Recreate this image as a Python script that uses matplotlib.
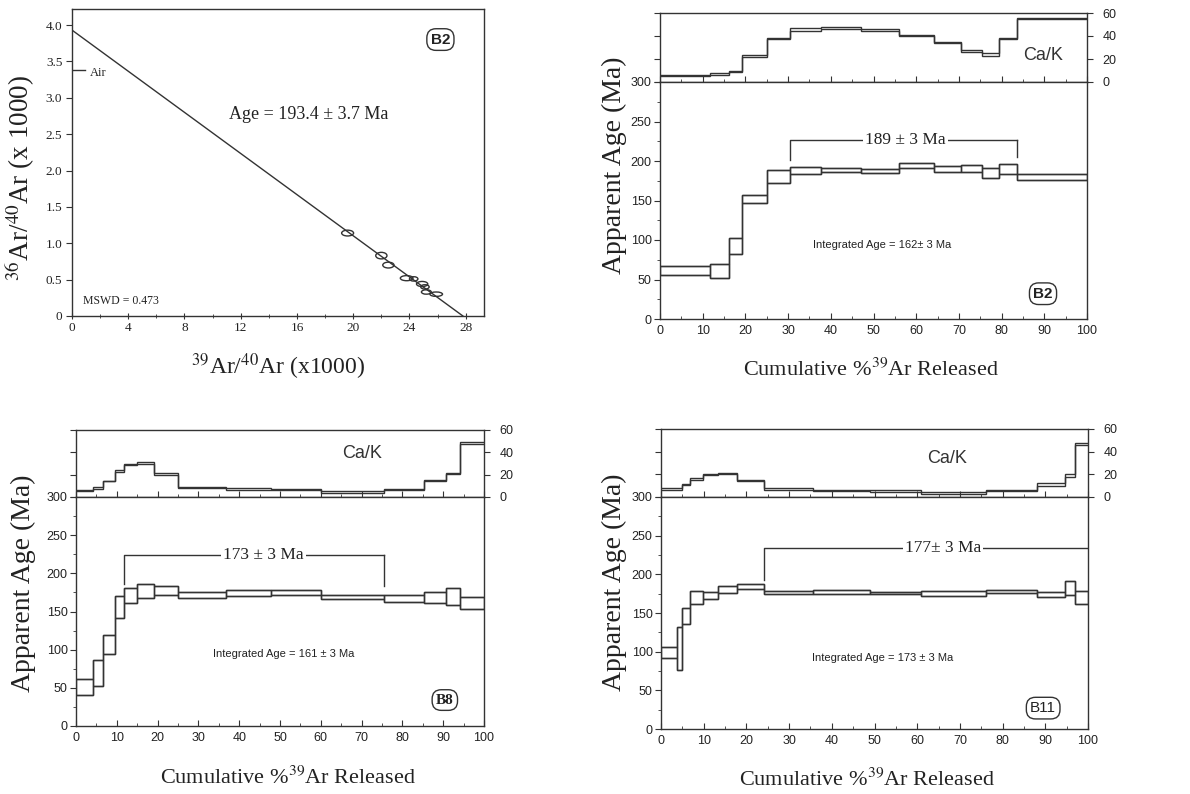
import matplotlib
matplotlib.use("Agg")
import matplotlib.pyplot as plt
from matplotlib.patches import Ellipse
from matplotlib.ticker import MultipleLocator

plt.rcParams["mathtext.fontset"] = "stix"

SERIF = "Liberation Serif"
SANS = "Liberation Sans"
INK = "#333333"

# ---- isochron (sample B2) ----
iso_x = [19.6, 22.0, 22.5, 23.8, 24.3, 24.9, 25.1, 25.2, 25.9]
iso_y = [1.14, 0.83, 0.70, 0.52, 0.51, 0.44, 0.40, 0.33, 0.30]
iso_w = [0.85, 0.80, 0.80, 0.90, 0.60, 0.80, 0.60, 0.70, 0.90]
iso_h = [0.08, 0.09, 0.08, 0.07, 0.06, 0.07, 0.06, 0.06, 0.06]
iso_y0 = 3.93   # 36Ar/40Ar intercept
iso_x0 = 27.8   # 39Ar/40Ar intercept
air_ratio = 3.38
iso_age = "Age = 193.4 ± 3.7 Ma"
iso_mswd = "MSWD = 0.473"

# ---- step-heating spectra ----
b2_edges = [0, 11.7, 16.2, 19.1, 25.0, 30.4, 37.6, 47.0, 55.9, 64.2, 70.6, 75.5, 79.4, 83.5, 100]
b2_age_lo = [56, 52, 82, 147, 172, 184, 186, 185, 191, 186, 186, 179, 184, 176]
b2_age_hi = [67, 69, 103, 157, 188, 192, 191, 190, 198, 194, 195, 191, 196, 184]
b2_cak_lo = [5, 6.5, 8.5, 22, 37.5, 44.5, 46.5, 44.5, 40, 33.5, 26.5, 23, 37.5, 55]
b2_cak_hi = [6, 7.5, 9.5, 23.5, 38.5, 47, 47.5, 46.5, 41, 34.5, 27.5, 25.5, 38.5, 56]

b8_edges = [0, 4.2, 6.7, 9.6, 11.8, 14.9, 19.1, 24.9, 36.8, 47.8, 60.0, 75.5, 85.3, 90.6, 94.0, 100]
b8_age_lo = [41, 52, 94, 142, 161, 168, 172, 168, 170, 171, 166, 163, 161, 158, 153]
b8_age_hi = [62, 87, 119, 170, 181, 186, 184, 176, 178, 178, 172, 172, 176, 181, 169]
b8_cak_lo = [5.5, 7.5, 14, 22.5, 28.5, 29.5, 20, 8.5, 6.5, 6.5, 3.5, 6, 14, 20.5, 47.5]
b8_cak_hi = [6.5, 9, 14.5, 24, 30, 31, 21.5, 9, 8.5, 7.5, 5, 6.8, 14.8, 21.5, 49]

b11_edges = [0, 3.8, 4.9, 6.8, 9.9, 13.3, 17.9, 24.2, 35.6, 48.9, 61.0, 76.2, 88.0, 94.5, 96.9, 100]
b11_age_lo = [92, 76, 136, 162, 168, 176, 181, 174, 175, 175, 172, 176, 171, 173, 161]
b11_age_hi = [106, 132, 157, 178, 177, 185, 188, 179, 180, 177, 178, 180, 177, 191, 178]
b11_cak_lo = [6.5, 6.5, 10.4, 15.4, 19, 20.2, 14.3, 6.5, 5, 4.5, 2.4, 5, 10, 17.8, 46]
b11_cak_hi = [8, 8, 11.9, 16.9, 20.2, 21.4, 15.4, 8, 6.5, 6, 4.5, 6.5, 12.5, 20.2, 48]

# plateau: start, end, bracket level, left drop, right drop, label, label x
b2_plateau = (30.4, 83.5, 226, 201, 205, "189 ± 3 Ma", 57.5)
b8_plateau = (11.8, 75.5, 224, 186, 184, "173 ± 3 Ma", 46)
b11_plateau = (24.2, 100, 234, 193, None, "177± 3 Ma", 66)

b2_integrated = ("Integrated Age = 162± 3 Ma", 52, 93.5)
b8_integrated = ("Integrated Age = 161 ± 3 Ma", 50.8, 94)
b11_integrated = ("Integrated Age = 173 ± 3 Ma", 52, 91.5)

W, H = 1190, 794
fig = plt.figure(figsize=(W / 100, H / 100), dpi=100)


def px_axes(left, top, right, bottom):
    return fig.add_axes([left / W, 1 - bottom / H, (right - left) / W, (bottom - top) / H])


def style_spines(ax):
    for s in ax.spines.values():
        s.set_color(INK)
        s.set_linewidth(1.0)


def sample_tag(ax, x, y, name, family, weight):
    ax.text(x, y, name, ha="center", va="center", fontsize=11, family=family,
            weight=weight, color="#222222",
            bbox=dict(boxstyle="round,pad=0.25,rounding_size=0.6", fc="white", ec=INK, lw=1.0))


# isochron plot
ax = px_axes(72, 9, 484, 316)
style_spines(ax)
ax.set_xlim(0, 29.3)
ax.set_ylim(0, 4.22)
ax.plot([0, iso_x0], [iso_y0, 0], color=INK, lw=1.0)
for x, y, w, h in zip(iso_x, iso_y, iso_w, iso_h):
    ax.add_patch(Ellipse((x, y), w, h, fill=False, ec=INK, lw=1.0))
ax.plot([0, 0.9], [air_ratio, air_ratio], color=INK, lw=1.0)
ax.text(1.3, air_ratio - 0.04, "Air", family=SERIF, fontsize=9, va="center", color="#222222")
ax.text(16.8, 2.77, iso_age, family=SERIF, fontsize=13, ha="center", va="center", color="#222222")
ax.text(0.8, 0.2, iso_mswd, family=SERIF, fontsize=8.5, va="center", color="#222222")
sample_tag(ax, 26.2, 3.8, "B2", SANS, "bold")
ax.set_xticks(range(0, 29, 4))
ax.set_xticklabels([str(v) for v in range(0, 29, 4)], family=SERIF, fontsize=9.5)
ax.xaxis.set_minor_locator(MultipleLocator(2))
ax.set_yticks([0, 0.5, 1, 1.5, 2, 2.5, 3, 3.5, 4])
ax.set_yticklabels(["0", "0.5", "1.0", "1.5", "2.0", "2.5", "3.0", "3.5", "4.0"], family=SERIF, fontsize=9.5)
ax.tick_params(axis="x", which="both", direction="inout", length=4, color=INK, labelcolor="#222222", pad=2)
ax.tick_params(axis="x", which="minor", length=2.5)
ax.tick_params(axis="y", direction="out", length=4, color=INK, labelcolor="#222222", pad=3)
fig.text(20 / W, 1 - 178 / H, r"$^{36}$Ar/$^{40}$Ar (x 1000)", rotation=90, ha="center", va="center",
         family=SERIF, fontsize=19.5, color="#222222")
fig.text(278 / W, 1 - 367 / H, r"$^{39}$Ar/$^{40}$Ar (x1000)", ha="center", va="center",
         family=SERIF, fontsize=17, color="#222222")


def spectrum(box, edges, age_lo, age_hi, cak_lo, cak_hi, plateau, integrated,
             tag, tag_xy, tag_family, tag_weight, cak_xy, ylabel_xy, xlabel_xy):
    left, top, mid, right, bottom = box
    ca = px_axes(left, top, right, mid)
    ag = px_axes(left, mid, right, bottom)
    style_spines(ca)
    style_spines(ag)

    # Ca/K ratio: two staircase lines (lower and upper bound)
    ca.stairs(cak_lo, edges, color=INK, lw=1.0, baseline=None)
    ca.stairs(cak_hi, edges, color=INK, lw=1.0, baseline=None)
    ca.set_xlim(0, 100)
    ca.set_ylim(0, 60)
    ca.set_yticks([0, 20, 40, 60])
    ca.set_yticklabels(["0", "20", "40", "60"], family=SANS, fontsize=9)
    ca.tick_params(axis="y", left=True, right=True, labelleft=False, labelright=True,
                   direction="out", length=4, color=INK, labelcolor="#222222", pad=7)
    ca.set_xticks(range(0, 101, 10))
    ca.xaxis.set_minor_locator(MultipleLocator(5))
    ca.tick_params(axis="x", which="both", direction="in", length=4, labelbottom=False, color=INK)
    ca.tick_params(axis="x", which="minor", length=2.5)
    ca.text(cak_xy[0], cak_xy[1], "Ca/K", family=SANS, fontsize=13, ha="center", va="center", color="#333333")

    # apparent age: one box per step, plus lower/upper staircases joining the steps
    widths = [b - a for a, b in zip(edges[:-1], edges[1:])]
    heights = [h - l for l, h in zip(age_lo, age_hi)]
    ag.bar(edges[:-1], heights, width=widths, bottom=age_lo, align="edge",
           fill=False, edgecolor=INK, linewidth=1.0)
    ag.stairs(age_lo, edges, color=INK, lw=1.0, baseline=None)
    ag.stairs(age_hi, edges, color=INK, lw=1.0, baseline=None)
    ag.set_xlim(0, 100)
    ag.set_ylim(0, 300)
    ag.set_xticks(range(0, 101, 10))
    ag.set_xticklabels([str(v) for v in range(0, 101, 10)], family=SANS, fontsize=9)
    ag.xaxis.set_minor_locator(MultipleLocator(5))
    ag.set_yticks(range(0, 301, 50))
    ag.set_yticklabels([str(v) for v in range(0, 301, 50)], family=SANS, fontsize=9)
    ag.yaxis.set_minor_locator(MultipleLocator(25))
    ag.tick_params(axis="x", which="both", direction="in", length=4, color=INK, labelcolor="#222222", pad=4)
    ag.tick_params(axis="x", which="minor", length=2.5)
    ag.tick_params(axis="y", which="both", direction="out", length=4, color=INK, labelcolor="#222222", pad=2)
    ag.tick_params(axis="y", which="minor", length=2.5)

    # plateau bracket
    x0, x1, level, drop0, drop1, label, lx = plateau
    ag.plot([x0, x0, x1], [drop0, level, level], color=INK, lw=1.0)
    if drop1 is not None:
        ag.plot([x1, x1], [level, drop1], color=INK, lw=1.0)
    ag.text(lx, level, label, family=SERIF, fontsize=12.5, ha="center", va="center", color="#222222",
            bbox=dict(fc="white", ec="none", pad=1.5))

    text, ix, iy = integrated
    ag.text(ix, iy, text, family=SANS, fontsize=8, ha="center", va="center", color="#222222")
    sample_tag(ag, tag_xy[0], tag_xy[1], tag, tag_family, tag_weight)

    fig.text(ylabel_xy[0] / W, 1 - ylabel_xy[1] / H, "Apparent Age (Ma)", rotation=90,
             ha="center", va="center", family=SERIF, fontsize=20, color="#222222")
    fig.text(xlabel_xy[0] / W, 1 - xlabel_xy[1] / H, r"Cumulative %$^{39}$Ar Released",
             ha="center", va="center", family=SERIF, fontsize=16, color="#222222")


spectrum((660, 13, 82, 1087, 319), b2_edges, b2_age_lo, b2_age_hi, b2_cak_lo, b2_cak_hi,
         b2_plateau, b2_integrated, "B2", (89.7, 32), SANS, "bold", (89.7, 23),
         (614, 165), (871, 370))
spectrum((76, 430, 497, 484, 726), b8_edges, b8_age_lo, b8_age_hi, b8_cak_lo, b8_cak_hi,
         b8_plateau, b8_integrated, "B8", (90.4, 34), SERIF, "bold", (70, 39),
         (23, 583), (288, 778))
spectrum((661, 429, 497, 1088, 729), b11_edges, b11_age_lo, b11_age_hi, b11_cak_lo, b11_cak_hi,
         b11_plateau, b11_integrated, "B11", (89.5, 27), SANS, "normal", (67, 34),
         (614, 582), (867, 780))

fig.savefig("out.png", dpi=100, facecolor="white")
